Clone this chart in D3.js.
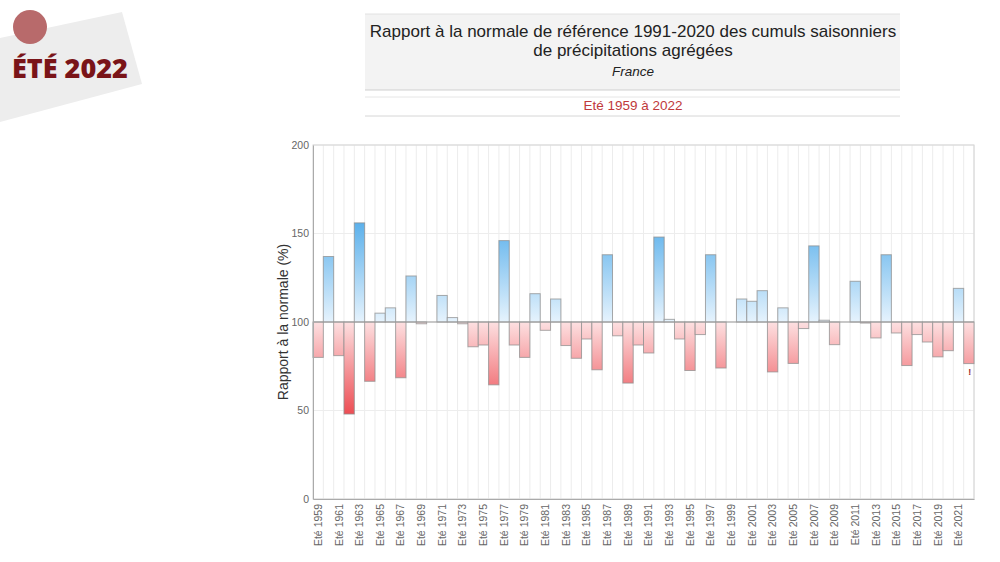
<!DOCTYPE html>
<html><head><meta charset="utf-8">
<script src="https://cdn.jsdelivr.net/npm/d3@7"></script>
<style>
html,body{margin:0;padding:0;background:#fff;}
svg{display:block;font-family:"Liberation Sans",Arial,sans-serif;}
</style></head>
<body>
<svg id="c" width="1000" height="562"></svg>
<script>
const years = d3.range(1959, 2023);
const values = [
  80, 137, 81, 48, 156, 66.5, 105, 108, 68.5, 126,
  99, 100, 115, 102.5, 99, 86, 87, 64.5, 146, 87,
  80, 116, 95.3, 113, 86.7, 79.5, 90.4, 73, 138, 92.2,
  65.5, 87, 82.5, 148, 101.5, 90.4, 72.6, 92.9, 138, 74,
  100, 113, 111.7, 117.7, 71.8, 108, 76.6, 96.3, 143, 101,
  87.2, 100, 123, 99.4, 91, 138, 93.8, 75.4, 92.9, 88.7,
  80.3, 83.8, 119, 76.5
];
const yTicks = [0, 50, 100, 150, 200];
const titleLines = ["Rapport à la normale de référence 1991-2020 des cumuls saisonniers", "de précipitations agrégées"];
const subtitle = "France";
const periodLabel = "Eté 1959 à 2022";
const badgeText = "ÉTÉ 2022";
const yLabel = "Rapport à la normale (%)";

const svg = d3.select("#c");
const defs = svg.append("defs");

// Badge
svg.append("polygon").attr("points", "0,38 122,12 142,84 0,122").attr("fill", "#ededed");
svg.append("circle").attr("cx", 30).attr("cy", 27).attr("r", 17).attr("fill", "#b86a6b");
svg.append("text").attr("x", 12).attr("y", 78).text(badgeText)
  .attr("font-family", "'Open Sans','Noto Sans',sans-serif").attr("font-weight", 800)
  .attr("font-size", 27).attr("fill", "#7a1418");

// Title box
svg.append("rect").attr("x", 365).attr("y", 14).attr("width", 535).attr("height", 76).attr("fill", "#f3f3f3");
svg.append("line").attr("x1", 365).attr("x2", 900).attr("y1", 14).attr("y2", 14).attr("stroke", "#e2e2e2");
svg.append("line").attr("x1", 365).attr("x2", 900).attr("y1", 90).attr("y2", 90).attr("stroke", "#cfcfcf").attr("stroke-width", 1.2);
svg.append("line").attr("x1", 365).attr("x2", 900).attr("y1", 97).attr("y2", 97).attr("stroke", "#e6e6e6");
svg.append("line").attr("x1", 365).attr("x2", 900).attr("y1", 116).attr("y2", 116).attr("stroke", "#d6d6d6");
titleLines.forEach((t, i) => {
  svg.append("text").attr("x", 633).attr("y", 37 + i * 19).attr("text-anchor", "middle")
    .attr("font-size", 17).attr("fill", "#222").text(t);
});
svg.append("text").attr("x", 633).attr("y", 76).attr("text-anchor", "middle")
  .attr("font-size", 13.5).attr("font-style", "italic").attr("fill", "#222").text(subtitle);
svg.append("text").attr("x", 633).attr("y", 110).attr("text-anchor", "middle")
  .attr("font-size", 13.5).attr("fill", "#c0393b").text(periodLabel);

// Chart
const L = 313, R = 974, T = 145, B = 499;
const x = d3.scaleBand().domain(years).range([L, R]).padding(0);
const y = d3.scaleLinear().domain([0, 200]).range([B, T]);

const gBlue = defs.append("linearGradient").attr("id", "gb").attr("gradientUnits", "userSpaceOnUse")
  .attr("x1", 0).attr("x2", 0).attr("y1", y(100)).attr("y2", y(160));
gBlue.append("stop").attr("offset", 0).attr("stop-color", "#e6f3fd");
gBlue.append("stop").attr("offset", 1).attr("stop-color", "#52acea");
const gRed = defs.append("linearGradient").attr("id", "gr").attr("gradientUnits", "userSpaceOnUse")
  .attr("x1", 0).attr("x2", 0).attr("y1", y(100)).attr("y2", y(45));
gRed.append("stop").attr("offset", 0).attr("stop-color", "#fde0e1");
gRed.append("stop").attr("offset", 1).attr("stop-color", "#ec454c");

// grid
const grid = svg.append("g");
years.forEach(yr => {
  grid.append("line").attr("x1", x(yr) + x.bandwidth()).attr("x2", x(yr) + x.bandwidth())
    .attr("y1", T).attr("y2", B).attr("stroke", "#ececec").attr("stroke-width", 1);
});
yTicks.forEach(t => {
  grid.append("line").attr("x1", L).attr("x2", R).attr("y1", y(t)).attr("y2", y(t))
    .attr("stroke", "#ededed");
});
// frame
svg.append("rect").attr("x", L).attr("y", T).attr("width", R - L).attr("height", B - T)
  .attr("fill", "none").attr("stroke", "#d4d4d4");

// bars
svg.append("g").selectAll("rect").data(years).join("rect")
  .attr("x", d => x(d))
  .attr("width", x.bandwidth())
  .attr("y", (d, i) => Math.min(y(values[i]), y(100)))
  .attr("height", (d, i) => Math.abs(y(values[i]) - y(100)))
  .attr("fill", (d, i) => values[i] >= 100 ? "url(#gb)" : "url(#gr)")
  .attr("stroke", "#8f8f8f").attr("stroke-opacity", 0.75).attr("stroke-width", 1);

// 100 line
svg.append("line").attr("x1", L).attr("x2", R).attr("y1", y(100)).attr("y2", y(100))
  .attr("stroke", "#999").attr("stroke-width", 1);

// y axis
const yAxis = d3.axisLeft(y).tickValues(yTicks).tickSize(0).tickPadding(4);
const ga = svg.append("g").attr("transform", `translate(${L},0)`).call(yAxis);
ga.select(".domain").attr("stroke", "#aaa");
ga.selectAll("text").attr("font-size", 10.5).attr("fill", "#666").attr("font-family", "'Liberation Sans',Arial,sans-serif");

// x axis
const xAxis = d3.axisBottom(x).tickValues(years.filter((d, i) => i % 2 === 0))
  .tickFormat(d => "Eté " + d).tickSize(0);
const gx = svg.append("g").attr("transform", `translate(0,${B})`).call(xAxis);
gx.select(".domain").attr("stroke", "#aaa");
gx.selectAll("text").attr("font-size", 10.5).attr("fill", "#666")
  .attr("font-family", "'Liberation Sans',Arial,sans-serif")
  .attr("text-anchor", "end").attr("transform", "rotate(-90)")
  .attr("x", -5).attr("y", 0).attr("dy", "0.35em");

// y label
svg.append("text").attr("transform", `translate(288,${y(100)}) rotate(-90)`)
  .attr("text-anchor", "middle").attr("font-size", 14).attr("fill", "#333").text(yLabel);

// warning mark for last bar
const last = years[years.length - 1];
svg.append("text").attr("x", x(last) + x.bandwidth() / 2 + 1).attr("y", y(values[values.length - 1]) + 11)
  .attr("text-anchor", "middle").attr("font-size", 9).attr("font-weight", "bold")
  .attr("fill", "#9b2a2a").text("!");
</script>
</body></html>
